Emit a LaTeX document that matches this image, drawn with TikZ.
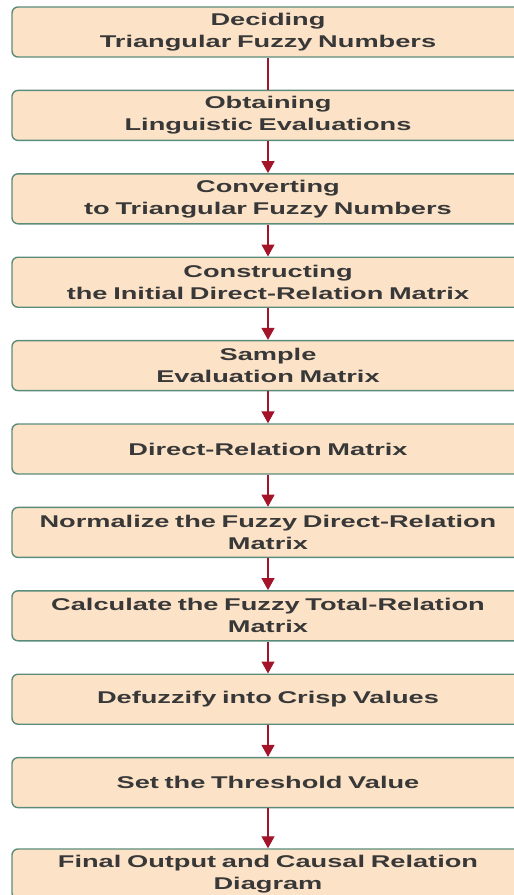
\documentclass[tikz,border=0pt]{standalone}
\usepackage{fontspec}
\setmainfont[FakeStretch=1.6]{Liberation Sans}
\usepackage{xcolor}
\usepackage{tikz}
\usetikzlibrary{positioning, arrows.meta}
\definecolor{peach}{HTML}{FCE3C8}
\definecolor{tealedge}{HTML}{5B8C7A}
\definecolor{darkred}{HTML}{A3142A}
\definecolor{inkgray}{HTML}{383838}

\begin{document}
\begin{tikzpicture}[x=1pt, y=1pt,
    stepbox/.style={draw=tealedge, line width=1.4pt, fill=peach, rounded corners=6pt,
      minimum width=512pt, minimum height=50pt, inner sep=2pt, text width=500pt, align=center,
      text=inkgray, font=\fontsize{17}{22}\selectfont\bfseries},
    flow/.style={draw=darkred, line width=1.2pt, -{Triangle[width=13pt, length=12pt]}}]
    \clip (0,0) rectangle (514,-895);
    \node[stepbox] (deciding) at (268,-32) {Deciding\\Triangular Fuzzy Numbers};
    \node[stepbox, below=32pt of deciding] (obtaining) {Obtaining\\Linguistic Evaluations};
    \node[stepbox, below=32pt of obtaining] (converting) {Converting\\to Triangular Fuzzy Numbers};
    \node[stepbox, below=32pt of converting] (constructing) {Constructing\\the Initial Direct-Relation Matrix};
    \node[stepbox, below=32pt of constructing] (sample) {Sample\\Evaluation Matrix};
    \node[stepbox, below=32pt of sample] (direct) {Direct-Relation Matrix};
    \node[stepbox, below=32pt of direct] (normalize) {Normalize the Fuzzy Direct-Relation\\Matrix};
    \node[stepbox, below=32pt of normalize] (total) {Calculate the Fuzzy Total-Relation\\Matrix};
    \node[stepbox, below=32pt of total] (defuzzify) {Defuzzify into Crisp Values};
    \node[stepbox, below=32pt of defuzzify] (threshold) {Set the Threshold Value};
    \node[stepbox, below=40pt of threshold] (final) {Final Output and Causal Relation\\Diagram};
    % connectors
    \draw[draw=darkred, line width=1.2pt] (deciding) -- (obtaining);
    \foreach \from/\to in {obtaining/converting, converting/constructing, constructing/sample,
        sample/direct, direct/normalize, normalize/total, total/defuzzify,
        defuzzify/threshold, threshold/final}
      \draw[flow] (\from) -- (\to);
  \end{tikzpicture}
\end{document}
